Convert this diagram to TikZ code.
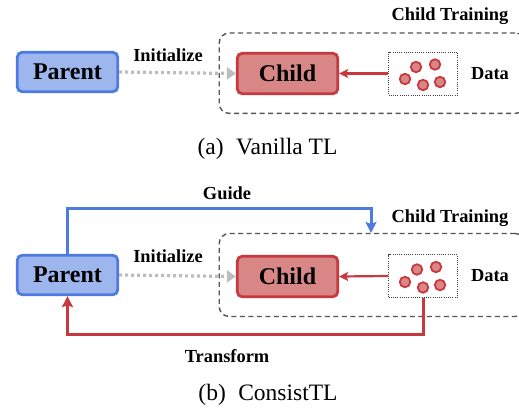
\documentclass[tikz,border=0pt]{standalone}
\usepackage{fontspec}
\setmainfont{Liberation Serif}
\usetikzlibrary{arrows.meta}
\definecolor{pblue}{HTML}{9DB7EE}
\definecolor{pborder}{HTML}{4E7BE0}
\definecolor{cfill}{HTML}{D98687}
\definecolor{cborder}{HTML}{C8393F}
\definecolor{dotgray}{HTML}{BDBDBD}
\definecolor{dashgray}{HTML}{555555}
\begin{document}
\begin{tikzpicture}[x=1pt,y=-1pt,
  parentbox/.style={draw=pborder, fill=pblue, line width=2.8pt, rounded corners=5pt,
    minimum width=100.5pt, minimum height=39.5pt, inner sep=0pt,
    font=\fontsize{24}{28}\selectfont\bfseries},
  childbox/.style={draw=cborder, fill=cfill, line width=2.8pt, rounded corners=5pt,
    minimum width=100.5pt, minimum height=40.5pt, inner sep=0pt,
    font=\fontsize{24}{28}\selectfont\bfseries},
  databox/.style={draw=black!75, line width=1pt, dash pattern=on 1pt off 1.2pt,
    minimum width=69pt, minimum height=43pt, inner sep=0pt},
  container/.style={draw=dashgray, line width=1.4pt, dash pattern=on 5pt off 3.5pt,
    rounded corners=10pt, inner sep=0pt, anchor=north west},
  ball/.style={circle, draw=cborder, fill=cfill, line width=1.8pt, minimum size=10.5pt, inner sep=0pt},
  lbl/.style={anchor=base, inner sep=0pt, font=\fontsize{18.4}{22}\selectfont\bfseries},
  captxt/.style={anchor=base, inner sep=0pt, font=\fontsize{23.5}{28}\selectfont},
  initarrow/.style={draw=dotgray, line width=3.2pt, dash pattern=on 3pt off 3pt,
    -{Triangle[length=9pt,width=12pt,fill=dotgray]}},
  dataarrow/.style={draw=cborder, line width=2.2pt, -{Stealth[length=9pt,width=9pt,inset=2pt]}},
  guidearrow/.style={draw=pborder, line width=3pt, -{Stealth[length=11pt,width=11pt,inset=2pt]}},
  transarrow/.style={draw=cborder, line width=3pt, -{Stealth[length=11pt,width=11pt,inset=2pt]}},
]
\clip (0,0) rectangle (519,407);
\fill[white] (0,0) rectangle (519,407);

% ---------- (a) ----------
\node[container, minimum width=306pt, minimum height=80.4pt] (cta) at (218.5,32.3) {};
\node[parentbox] (pa) at (67.5,72) {Parent};
\node[childbox] (ca) at (287.5,73.5) {Child};
\node[databox] (da) at (423,73.5) {};
\node[ball] (a1) at (416,67) {};
\node[ball] (a2) at (435,64.5) {};
\node[ball] (a3) at (405,79) {};
\node[ball] (a4) at (423,85) {};
\node[ball] (a5) at (440,82) {};
\node[lbl] (cta-l) at (450,20.7) {Child Training};
\node[lbl] (ia) at (168,61) {Initialize};
\node[lbl] (dla) at (490,79) {Data};
\draw[initarrow] (pa.east) -- (ca.west);
\draw[dataarrow] (da.west) -- (ca.east);
\node[captxt] (capa) at (267.5,154) {(a)\hspace{0.28em} Vanilla TL};

% ---------- (b) ----------
\node[container, minimum width=306pt, minimum height=83pt] (ctb) at (218.5,232.8) {};
\node[parentbox] (pb) at (67.5,275) {Parent};
\node[childbox] (cb) at (287.5,276.5) {Child};
\node[databox] (db) at (423,276) {};
\node[ball] (b1) at (417,269.5) {};
\node[ball] (b2) at (436,267) {};
\node[ball] (b3) at (405,282) {};
\node[ball] (b4) at (423,287.5) {};
\node[ball] (b5) at (440,285) {};
\node[lbl] (gl) at (227,199.3) {Guide};
\node[lbl] (ctb-l) at (450,222.3) {Child Training};
\node[lbl] (ib) at (168,262.7) {Initialize};
\node[lbl] (dlb) at (490,281) {Data};
\node[lbl] (tl) at (227,362.3) {Transform};
\draw[initarrow] (pb.east) -- (cb.west);
\draw[dataarrow] (db.west) -- (cb.east);
\coordinate (gturn) at (371,208);
\coordinate (gtip) at (371,233);
\draw[guidearrow] (pb.north) |- (gturn) -- (gtip);
\coordinate (tturn) at (423,334);
\draw[transarrow] (db.south) -- (tturn) -| (pb.south);
\node[captxt] (capb) at (268,400) {(b)\hspace{0.28em} ConsistTL};
\end{tikzpicture}
\end{document}
